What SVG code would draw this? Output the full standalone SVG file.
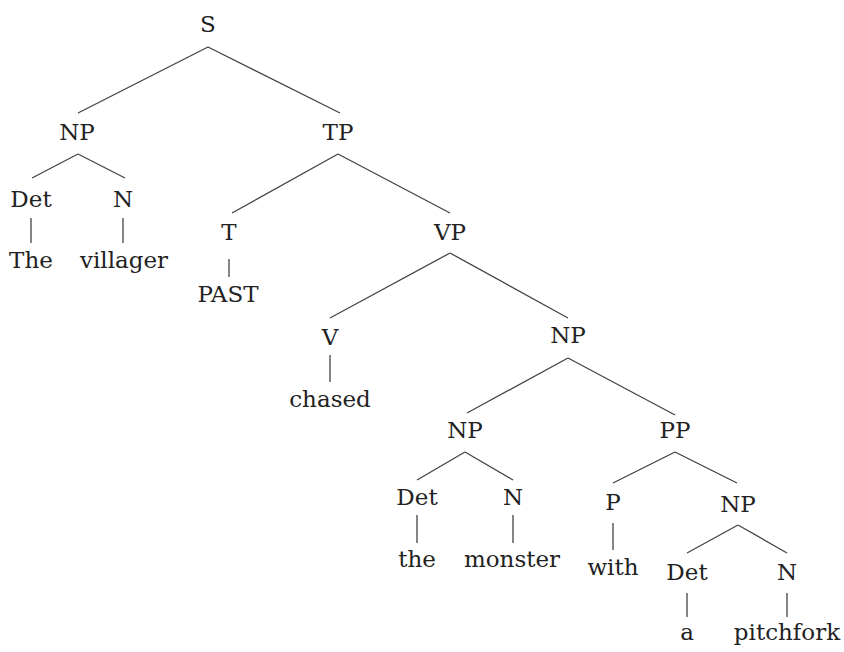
<svg xmlns="http://www.w3.org/2000/svg" width="844" height="652" viewBox="0 0 844 652">
<style>
text{font-family:"DejaVu Serif",serif;font-size:23px;fill:#222;text-anchor:middle}
.e line{stroke:#444;stroke-width:1.3}
</style>
<rect width="844" height="652" fill="#fff"/>
<g class="e" id="edges">
<line x1="208" y1="47" x2="78" y2="113"/>
<line x1="208" y1="47" x2="340" y2="113"/>
<line x1="78" y1="154" x2="32" y2="178"/>
<line x1="78" y1="154" x2="125" y2="178"/>
<line x1="31" y1="218" x2="31" y2="243"/>
<line x1="123" y1="218" x2="123" y2="243"/>
<line x1="338" y1="154" x2="232" y2="213"/>
<line x1="338" y1="154" x2="450" y2="213"/>
<line x1="229" y1="259" x2="229" y2="277"/>
<line x1="450" y1="253" x2="330" y2="318"/>
<line x1="450" y1="253" x2="568" y2="318"/>
<line x1="330" y1="355" x2="330" y2="382"/>
<line x1="568" y1="358" x2="467" y2="413"/>
<line x1="568" y1="358" x2="675" y2="415"/>
<line x1="465" y1="452" x2="417" y2="480"/>
<line x1="465" y1="452" x2="513" y2="480"/>
<line x1="417" y1="515" x2="417" y2="543"/>
<line x1="513" y1="515" x2="513" y2="543"/>
<line x1="675" y1="452" x2="613" y2="483"/>
<line x1="675" y1="452" x2="737" y2="483"/>
<line x1="613" y1="523" x2="613" y2="550"/>
<line x1="738" y1="525" x2="687" y2="553"/>
<line x1="738" y1="525" x2="787" y2="553"/>
<line x1="687" y1="593" x2="687" y2="617"/>
<line x1="787" y1="593" x2="787" y2="617"/>
</g>
<g id="n-S"><text x="208" y="32">S</text></g>
<g id="n-NP1"><text x="77" y="140">NP</text></g>
<g id="n-Det1"><text x="31" y="207">Det</text></g>
<g id="n-N1"><text x="123" y="207">N</text></g>
<g id="n-The"><text x="31" y="268">The</text></g>
<g id="n-villager"><text x="124" y="268">villager</text></g>
<g id="n-TP"><text x="338" y="140">TP</text></g>
<g id="n-T"><text x="229" y="240">T</text></g>
<g id="n-PAST"><text x="228" y="302">PAST</text></g>
<g id="n-VP"><text x="450" y="240">VP</text></g>
<g id="n-V"><text x="330" y="345">V</text></g>
<g id="n-chased"><text x="330" y="407">chased</text></g>
<g id="n-NP2"><text x="568" y="343">NP</text></g>
<g id="n-NP3"><text x="465" y="438">NP</text></g>
<g id="n-Det2"><text x="417" y="505">Det</text></g>
<g id="n-N2"><text x="513" y="505">N</text></g>
<g id="n-the"><text x="417" y="567">the</text></g>
<g id="n-monster"><text x="512" y="567">monster</text></g>
<g id="n-PP"><text x="675" y="438">PP</text></g>
<g id="n-P"><text x="613" y="510">P</text></g>
<g id="n-with"><text x="613" y="575">with</text></g>
<g id="n-NP4"><text x="738" y="512">NP</text></g>
<g id="n-Det3"><text x="687" y="580">Det</text></g>
<g id="n-N3"><text x="787" y="580">N</text></g>
<g id="n-a"><text x="687" y="640">a</text></g>
<g id="n-pitchfork"><text x="787" y="640">pitchfork</text></g>
</svg>
